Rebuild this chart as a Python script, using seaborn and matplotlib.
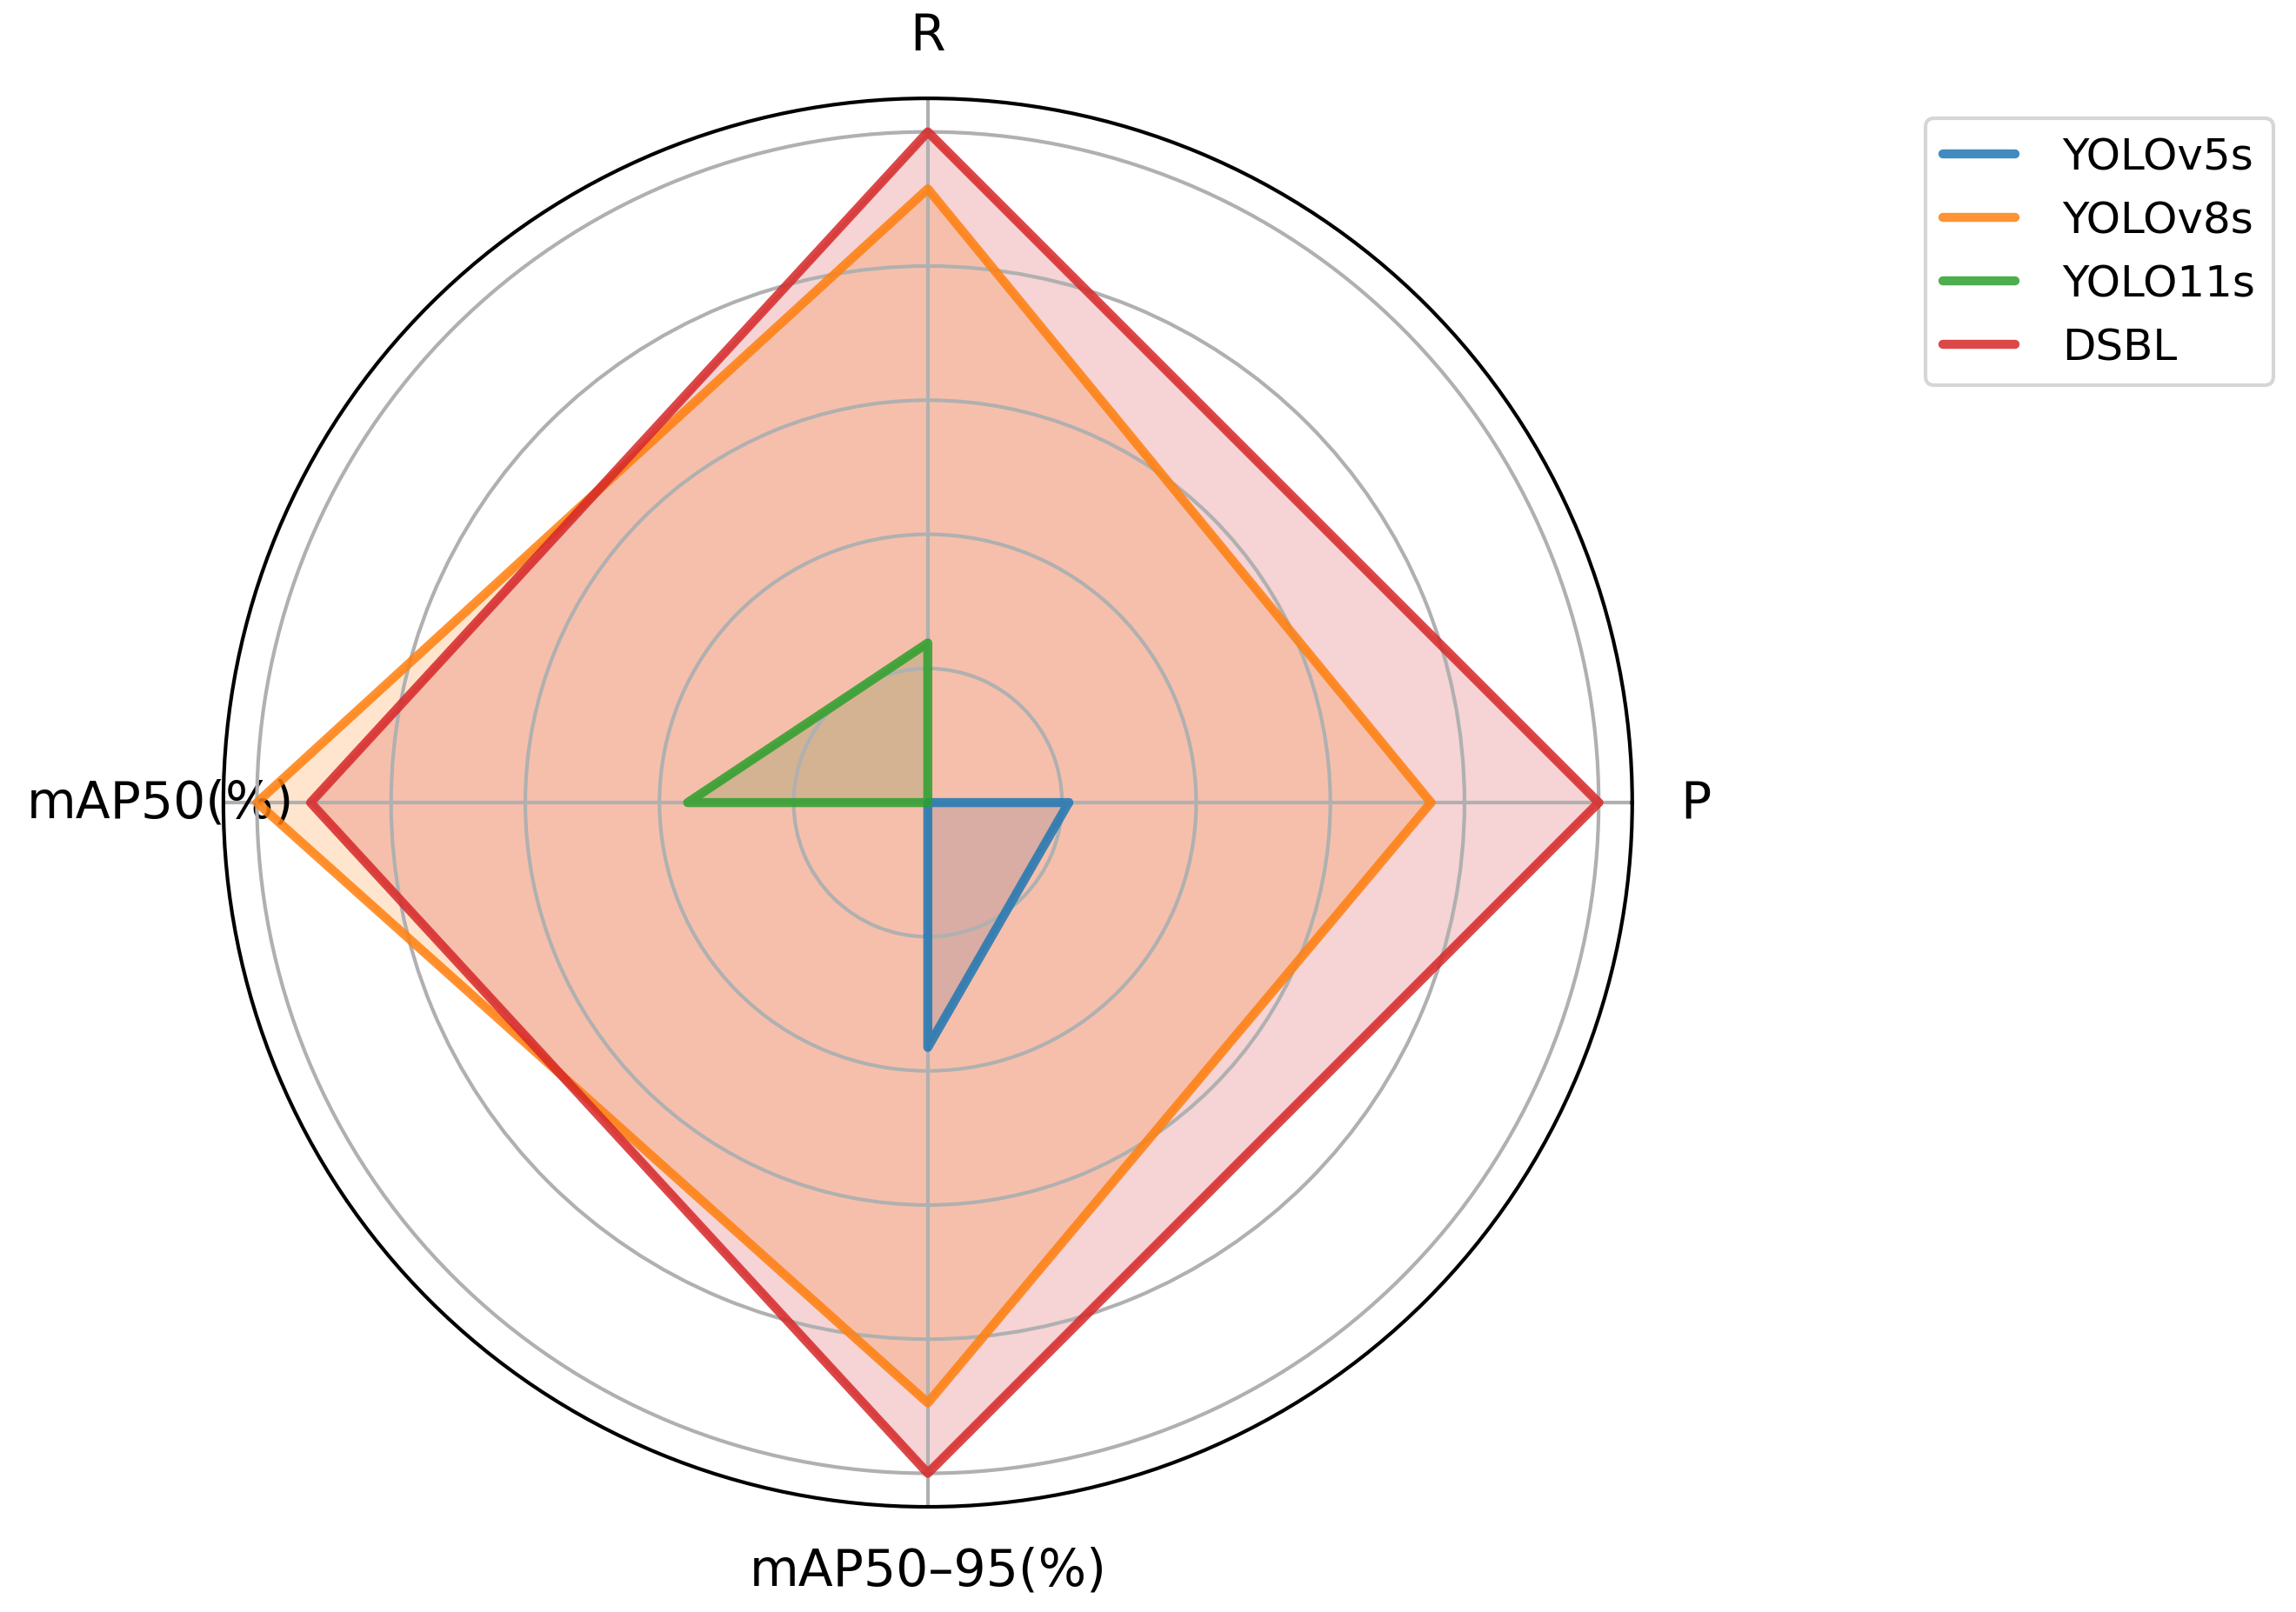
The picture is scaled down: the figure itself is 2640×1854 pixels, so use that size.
import numpy as np
import pandas as pd
import matplotlib
matplotlib.use("Agg")
import matplotlib.pyplot as plt
import seaborn as sns

# normalised scores per metric
metrics = ["P", "R", "mAP50(%)", "mAP50–95(%)"]
models = ["YOLOv5s", "YOLOv8s", "YOLO11s", "DSBL"]
yolov5s = [0.21, 0.0, 0.0, 0.365]
yolov8s = [0.75, 0.915, 1.0, 0.895]
yolo11s = [0.0, 0.238, 0.358, 0.0]
dsbl = [1.0, 1.0, 0.92, 1.0]
values = [yolov5s, yolov8s, yolo11s, dsbl]

sns.set_style("white")
plt.rcParams["font.family"] = ["DejaVu Sans"]
plt.rcParams["text.color"] = "black"
colors = sns.color_palette("tab10", 4)

angles = np.linspace(0, 2 * np.pi, len(metrics), endpoint=False)
angles_closed = np.append(angles, angles[0])

rows = []
for m, v in zip(models, values):
    vc = list(v) + [v[0]]
    for i, (a, r) in enumerate(zip(angles_closed, vc)):
        rows.append({"model": m, "angle": a, "score": r, "order": i})
df = pd.DataFrame(rows)

fig = plt.figure(figsize=(8.8, 6.1833), dpi=300)
ax = fig.add_axes([0.0973, 0.0652, 0.6136, 0.8733], projection="polar")

for m, c in zip(models, colors):
    sub = df[df["model"] == m].sort_values("order")
    sns.lineplot(data=sub, x="angle", y="score", sort=False, ax=ax,
                 color=c, linewidth=2.5, alpha=0.85, label=m, estimator=None)
    ax.fill(sub["angle"], sub["score"], color=c, alpha=0.2)

ax.set_axisbelow("line")
ax.set_ylim(0, 1.05)
ax.set_yticks([0.2, 0.4, 0.6, 0.8, 1.0])
ax.set_yticklabels([])
ax.set_xticks(angles)
ax.set_xticklabels(metrics, fontsize=14, color="black")
ax.tick_params(axis="x", pad=7)
ax.set_xlabel("")
ax.set_ylabel("")
ax.grid(True, color="#b0b0b0", linewidth=1.0)
ax.spines["polar"].set_linewidth(1.0)
ax.spines["polar"].set_color("black")

ax.legend(loc="upper right", bbox_to_anchor=(0.990, 0.926),
          bbox_transform=fig.transFigure, borderaxespad=0,
          fontsize=12, frameon=True, handlelength=1.65, handletextpad=1.1)

fig.savefig("out.png", dpi=300, facecolor="white")
